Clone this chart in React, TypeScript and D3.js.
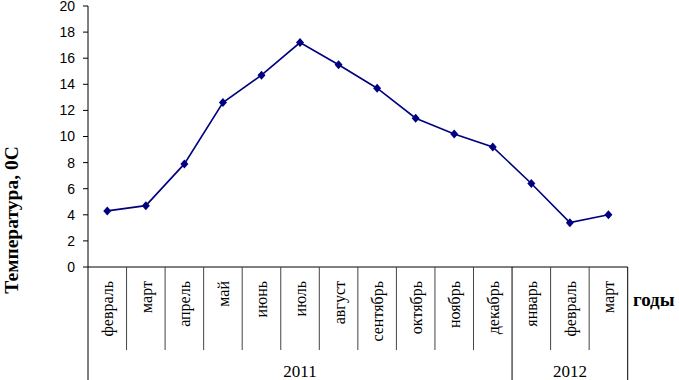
import React from "react";
import * as d3 from "d3";

const months = ["февраль","март","апрель","май","июнь","июль","август","сентябрь","октябрь","ноябрь","декабрь","январь","февраль","март"];
const temps = [4.3, 4.7, 7.9, 12.6, 14.7, 17.2, 15.5, 13.7, 11.4, 10.2, 9.2, 6.4, 3.4, 4.0];
const years = ["2011", "2012"];
const yearSpans = [11, 3];
const yTicks = [0, 2, 4, 6, 8, 10, 12, 14, 16, 18, 20];

const W = 679, H = 380;
const left = 88, right = 627.7, top = 6, bottom = 267;

export default function App() {
  const x = d3.scaleBand<number>().domain(months.map((_, i) => i)).range([left, right]).padding(0);
  const y = d3.scaleLinear().domain([0, 20]).range([bottom, top]);
  const line = d3.line<number>().x((_, i) => x(i)! + x.bandwidth() / 2).y(d => y(d));
  const diamond = (cx: number, cy: number) => `M${cx},${cy - 4.5}L${cx + 4},${cy}L${cx},${cy + 4.5}L${cx - 4},${cy}Z`;

  const yearBounds: number[] = [0];
  yearSpans.forEach(s => yearBounds.push(yearBounds[yearBounds.length - 1] + s));
  const bx = (i: number) => (i < months.length ? x(i)! : right);

  return (
    <svg width={W} height={H} style={{ position: "absolute", left: 0, top: 0, background: "#fff" }}>
      <rect width={W} height={H} fill="#fff" />
      <line x1={left} x2={left} y1={top} y2={bottom} stroke="#000" strokeWidth={1} />
      {yTicks.map(t => (
        <g key={t}>
          <line x1={left - 5} x2={left} y1={y(t)} y2={y(t)} stroke="#000" />
          <text x={75} y={y(t)} dy="0.35em" textAnchor="end" fontFamily="Liberation Sans, Arial" fontSize={14} fill="#000">{t}</text>
        </g>
      ))}
      <line x1={left} x2={right} y1={bottom} y2={bottom} stroke="#000" />
      {months.map((_, i) => i > 0 && !yearBounds.includes(i) ? (
        <line key={"s" + i} x1={x(i)} x2={x(i)} y1={bottom} y2={350} stroke="#444" strokeWidth={1} />
      ) : null)}
      {yearBounds.map((b, i) => (
        <line key={"y" + i} x1={bx(b)} x2={bx(b)} y1={bottom} y2={H} stroke="#000" strokeWidth={1} />
      ))}
      {months.map((m, i) => {
        const cx = x(i)! + x.bandwidth() / 2;
        return (
          <text key={"m" + i} transform={`translate(${cx + 6},${281}) rotate(-90)`} textAnchor="end"
            fontFamily="Liberation Serif, Times New Roman" fontSize={16} fill="#000">{m}</text>
        );
      })}
      {years.map((yr, i) => {
        const cx = (bx(yearBounds[i]) + bx(yearBounds[i + 1])) / 2;
        return (
          <text key={yr} x={cx} y={377} textAnchor="middle" fontFamily="Liberation Serif, Times New Roman" fontSize={17} fill="#000">{yr}</text>
        );
      })}
      <path d={line(temps)!} fill="none" stroke="#000080" strokeWidth={1.6} />
      {temps.map((t, i) => (
        <path key={"p" + i} d={diamond(x(i)! + x.bandwidth() / 2, y(t))} fill="#000080" />
      ))}
      <text transform={`translate(${18},${220}) rotate(-90)`} textAnchor="middle" fontFamily="Liberation Serif, Times New Roman" fontWeight="bold" fontSize={19.5} fill="#000">Температура, 0С</text>
      <text x={633} y={306} fontFamily="Liberation Serif, Times New Roman" fontWeight="bold" fontSize={19} fill="#000">годы</text>
    </svg>
  );
}
